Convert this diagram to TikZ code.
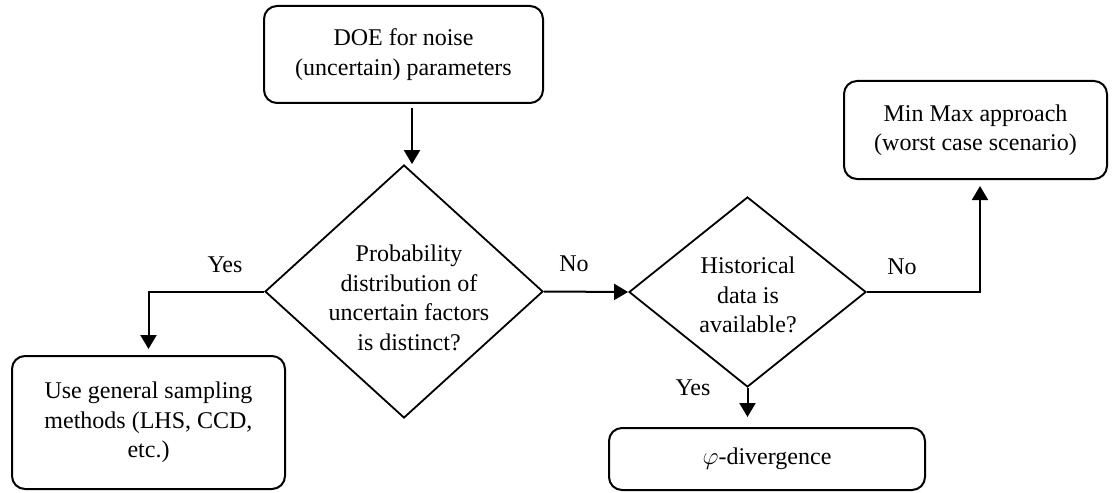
\documentclass[tikz,border=0pt]{standalone}
\usepackage{fontspec}
\setmainfont{Liberation Serif}
\usetikzlibrary{shapes.geometric,arrows.meta}
\begin{document}
\begin{tikzpicture}[x=1pt,y=-1pt,
  every node/.style={font=\fontsize{24pt}{29.5pt}\selectfont},
  boxnode/.style={draw,line width=2pt,rounded corners=13pt,align=center,inner sep=0pt},
  decision/.style={draw,diamond,line width=1.8pt,inner sep=0pt,aspect=1},
  dtext/.style={align=center,inner sep=0pt},
  lbl/.style={inner sep=0pt},
  link/.style={line width=2pt,-{Triangle[length=14pt,width=16pt]}}
]
\useasboundingbox (0,0) rectangle (1115,492);
\node[boxnode,minimum width=279pt,minimum height=97pt] (top) at (403.5,54.5) {DOE for noise\\(uncertain) parameters};
\node[decision,minimum width=278pt,minimum height=253pt] (d1) at (404,291.5) {};
\node[dtext] (d1text) at (409,298) {Probability\\distribution of\\uncertain factors\\is distinct?};
\node[boxnode,minimum width=273pt,minimum height=133pt] (lbox) at (148.5,422.5) {Use general sampling\\methods (LHS, CCD,\\etc.)};
\node[decision,minimum width=237pt,minimum height=190pt] (d2) at (747.5,292) {};
\node[dtext] (d2text) at (748,295) {Historical\\data is\\available?};
\node[boxnode,minimum width=263pt,minimum height=98pt] (rbox) at (975.5,130) {Min Max approach\\(worst case scenario)};
\node[boxnode,minimum width=316pt,minimum height=62pt] (phibox) at (767,459) {$\varphi$-divergence};
\node[lbl] (yes1) at (225,265) {Yes};
\node[lbl] (no1) at (574,264) {No};
\node[lbl] (no2) at (902,267) {No};
\node[lbl] (yes2) at (693,388) {Yes};
\draw[link,shorten <=4pt] ([xshift=8.5pt]top.south) -- ([xshift=8.5pt]top.south |- d1.north);
\draw[link,shorten >=6pt] (d1.west) -| (lbox.north);
\draw[link] (d1.east) -- (d2.west);
\draw[link,shorten >=6pt] (d2.east) -| ([xshift=4.5pt]rbox.south);
\draw[link,shorten >=10pt] (d2.south) -- (d2.south |- phibox.north);
\end{tikzpicture}
\end{document}
